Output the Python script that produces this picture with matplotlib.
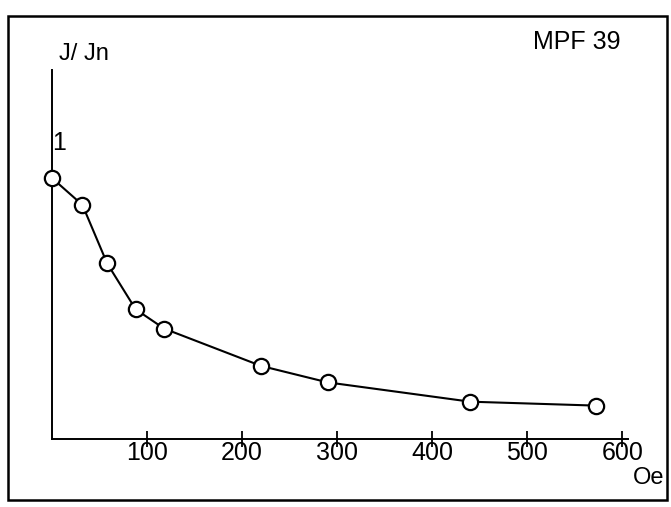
import matplotlib
matplotlib.use('Agg')
import matplotlib.pyplot as plt
from matplotlib.patches import Rectangle

plt.rcParams['font.family'] = ['Liberation Sans', 'DejaVu Sans']

# field (Oe) and normalised current J/Jn
field = [0, 32, 58, 88, 118, 220, 290, 440, 572]
j_ratio = [1.0, 0.897, 0.673, 0.497, 0.423, 0.280, 0.217, 0.143, 0.128]
x_ticks = [100, 200, 300, 400, 500, 600]
x_tick_labels = ['100', '200', '300', '400', '500', '600']

W, H = 671, 507
fig = plt.figure(figsize=(W / 100, H / 100), dpi=100)

def fx(px):
    return px / W

def fy(py):
    return 1 - py / H

# axes box in pixels: x from 52 to 628, y from 70 (top) to 439 (baseline)
ax = fig.add_axes([fx(52), fy(439), fx(628) - fx(52), fy(70) - fy(439)])
ax.set_xlim(0, 606)
ax.set_ylim(0, 1.414)

ax.plot(field, j_ratio, color='black', linewidth=1.5, marker='o',
        markersize=11, markerfacecolor='white', markeredgecolor='black',
        markeredgewidth=1.6, clip_on=False, zorder=3)

for side in ['top', 'right']:
    ax.spines[side].set_visible(False)
ax.spines['left'].set_linewidth(1.4)
ax.spines['bottom'].set_linewidth(1.4)

ax.set_xticks(x_ticks)
ax.set_xticklabels(x_tick_labels)
ax.tick_params(axis='x', direction='inout', length=11, width=1.3,
               pad=-4, labelsize=18)
ax.set_yticks([])

# "1" next to the first point
ax.annotate('1', xy=(0, 1), xytext=(5, 25), textcoords='offset points',
            ha='center', va='center', fontsize=18)

fig.text(fx(84), fy(54), 'J/ Jn', ha='center', va='center', fontsize=17)
fig.text(fx(577), fy(42), 'MPF 39', ha='center', va='center', fontsize=18)
fig.text(fx(649), fy(478), 'Oe', ha='center', va='center', fontsize=17)

# outer frame
fig.patches.append(Rectangle((fx(8), fy(500)), fx(667) - fx(8), fy(16) - fy(500),
                             transform=fig.transFigure, fill=False,
                             edgecolor='black', linewidth=1.8))

fig.savefig('out.png', dpi=100)
